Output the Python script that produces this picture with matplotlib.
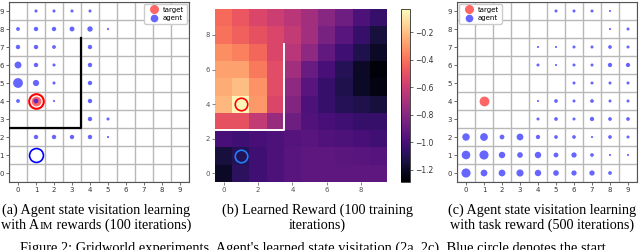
import numpy as np
import matplotlib
matplotlib.use('Agg')
import matplotlib.pyplot as plt
from matplotlib.lines import Line2D

# panel (a): agent visitation with AIM rewards
xs_a = [1, 2, 3, 4, 0, 1, 2, 3, 4, 5, 0, 1, 2, 4, 0, 1, 2, 4, 0, 1, 2, 4, 0, 1, 2, 4, 4, 5, 1, 2, 3, 4, 5]
ys_a = [9, 9, 9, 9, 8, 8, 8, 8, 8, 8, 7, 7, 7, 7, 6, 6, 6, 6, 5, 5, 5, 5, 4, 4, 4, 4, 3, 3, 2, 2, 2, 2, 2]
visits_a = [2, 2, 2, 2, 3, 4, 4, 5, 6, 1, 4, 4, 3, 4, 10, 4, 2, 4, 20, 8, 2, 4, 3, 5, 1, 4, 4, 2, 4, 4, 4, 4, 1]

# panel (c): agent visitation with task reward
xs_c = [5, 6, 7, 8,
        8, 9,
        4, 5, 6, 7, 8, 9,
        4, 5, 6, 7, 8, 9,
        6, 7, 8, 9,
        4, 5, 6, 7, 8, 9,
        4, 5, 6, 7, 8, 9,
        0, 1, 2, 3, 4, 5, 6, 7, 8, 9,
        0, 1, 2, 3, 4, 5, 6, 7, 8, 9,
        0, 1, 2, 3, 4, 5, 6, 7, 8]
ys_c = [9, 9, 9, 9,
        8, 8,
        7, 7, 7, 7, 7, 7,
        6, 6, 6, 6, 6, 6,
        5, 5, 5, 5,
        4, 4, 4, 4, 4, 4,
        3, 3, 3, 3, 3, 3,
        2, 2, 2, 2, 2, 2, 2, 2, 2, 2,
        1, 1, 1, 1, 1, 1, 1, 1, 1, 1,
        0, 0, 0, 0, 0, 0, 0, 0, 0]
visits_c = [2, 2, 2, 1,
            1, 2,
            1, 1, 2, 2, 3, 2,
            2, 1, 2, 2, 4, 4,
            2, 2, 2, 2,
            1, 3, 2, 3, 2, 2,
            2, 3, 2, 4, 3, 3,
            12, 13, 5, 10, 4, 3, 3, 1, 3, 2,
            16, 18, 9, 7, 9, 5, 6, 3, 1, 1,
            18, 10, 10, 11, 9, 7, 6, 6, 3]

# panel (b): learned reward, rows from y=0 (bottom) to y=9 (top)
reward = [
    [-1.20, -1.08, -1.02, -0.98, -0.95, -0.93, -0.93, -0.93, -0.93, -0.93],
    [-1.15, -1.10, -1.02, -0.98, -0.95, -0.93, -0.93, -0.94, -0.95, -0.96],
    [-1.00, -1.02, -1.00, -0.98, -0.96, -0.95, -0.97, -0.98, -1.00, -1.02],
    [-0.50, -0.50, -0.62, -0.75, -0.88, -0.97, -1.00, -1.02, -1.05, -1.05],
    [-0.22, -0.05, -0.30, -0.55, -0.82, -0.98, -1.05, -1.10, -1.12, -1.15],
    [-0.25, -0.20, -0.32, -0.52, -0.78, -0.95, -1.05, -1.12, -1.20, -1.25],
    [-0.28, -0.28, -0.38, -0.52, -0.72, -0.90, -1.00, -1.10, -1.20, -1.27],
    [-0.33, -0.36, -0.43, -0.55, -0.65, -0.78, -0.92, -1.02, -1.12, -1.20],
    [-0.40, -0.45, -0.50, -0.55, -0.62, -0.72, -0.85, -0.95, -1.05, -1.15],
    [-0.42, -0.48, -0.55, -0.60, -0.65, -0.72, -0.80, -0.88, -0.98, -1.05],
]
cbar_ticks = [-0.2, -0.4, -0.6, -0.8, -1.0, -1.2]

target = (1, 4)
start = (1, 1)
wall_x = [-0.5, 3.5, 3.5]
wall_y = [2.5, 2.5, 7.5]

# caption lines; the (a) second line is split so "IM" can be set in small caps
captions = [
    ("(a) Agent state visitation learning", ["with A", "IM", " rewards (100 iterations)"]),
    ("(b) Learned Reward (100 training", ["iterations)"]),
    ("(c) Agent state visitation learning", ["with task reward (500 iterations)"]),
]
fig_caption = "Figure 2: Gridworld experiments. Agent's learned state visitation (2a, 2c). Blue circle denotes the start"

agent_col = (0, 0, 1, 0.6)
target_col = (1, 0, 0, 0.6)
serif = 'Liberation Serif'
cap_fs = 10.2

fig = plt.figure(figsize=(6.4, 2.5), dpi=100)


def grid_axes(rect):
    ax = fig.add_axes(rect)
    ax.set_xlim(-0.5, 9.5)
    ax.set_ylim(-0.5, 9.5)
    ax.set_xticks(range(10))
    ax.set_yticks(range(10))
    ax.set_xticks(np.arange(-0.5, 10, 1), minor=True)
    ax.set_yticks(np.arange(-0.5, 10, 1), minor=True)
    ax.grid(which='minor', color='#b8b8b8', lw=1.0)
    ax.tick_params(which='minor', length=0)
    ax.tick_params(which='major', labelsize=5, length=2, width=0.5, pad=1.5, colors='#333333')
    for s in ax.spines.values():
        s.set_color('#555555')
        s.set_linewidth(0.8)
    ax.set_axisbelow(True)
    return ax


def legend_handles():
    return [Line2D([], [], ls='none', marker='o', ms=6.5, mfc=target_col, mec='none', label='target'),
            Line2D([], [], ls='none', marker='o', ms=5.5, mfc=agent_col, mec='none', label='agent')]


# (a)
ax_a = grid_axes([9 / 640, 68 / 250, 180 / 640, 180 / 250])
ax_a.scatter([target[0]], [target[1]], s=50, color=target_col, lw=0, zorder=3)
ax_a.plot([target[0]], [target[1]], 'o', ms=10.5, mfc='none', mec='red', mew=1.5, zorder=4)
ax_a.plot([start[0]], [start[1]], 'o', ms=10, mfc='none', mec='blue', mew=1.2, zorder=4)
ax_a.scatter(xs_a, ys_a, s=np.array(visits_a) * 2.5, color=agent_col, lw=0, zorder=5)
ax_a.plot(wall_x, wall_y, color='black', lw=1.6, zorder=6)
ax_a.legend(handles=legend_handles(), loc='upper right', fontsize=5, handletextpad=0.3,
            borderpad=0.4, labelspacing=0.3, framealpha=1, edgecolor='#cccccc', borderaxespad=0.3)

# (b)
ax_b = fig.add_axes([215 / 640, 68 / 250, 172 / 640, 173 / 250])
im = ax_b.imshow(np.array(reward), origin='lower', cmap='magma', vmin=-1.29, vmax=-0.03,
                 extent=(-0.5, 9.5, -0.5, 9.5), aspect='auto', interpolation='nearest')
ax_b.plot(wall_x, wall_y, color='white', lw=1.4)
ax_b.plot([target[0]], [target[1]], 'o', ms=9, mfc='none', mec='red', mew=1.2)
ax_b.plot([start[0]], [start[1]], 'o', ms=9, mfc='none', mec='#1f7fff', mew=1.2)
ax_b.set_xticks([0, 2, 4, 6, 8])
ax_b.set_yticks([0, 2, 4, 6, 8])
ax_b.tick_params(labelsize=5, length=2, width=0.5, pad=1.5, colors='#555555')
for s in ax_b.spines.values():
    s.set_visible(False)

cax = fig.add_axes([401 / 640, 68 / 250, 9 / 640, 173 / 250])
cb = fig.colorbar(im, cax=cax, ticks=cbar_ticks)
cb.ax.tick_params(labelsize=5.5, length=2, width=0.5, pad=2, colors='#333333')
cb.outline.set_linewidth(0.5)

# (c)
ax_c = grid_axes([457 / 640, 68 / 250, 180 / 640, 180 / 250])
ax_c.scatter([target[0]], [target[1]], s=50, color=target_col, lw=0, zorder=3)
ax_c.scatter(xs_c, ys_c, s=np.array(visits_c) * 2.4, color=agent_col, lw=0, zorder=5)
ax_c.legend(handles=legend_handles(), loc='upper left', fontsize=5, handletextpad=0.3,
            borderpad=0.4, labelspacing=0.3, framealpha=1, edgecolor='#cccccc', borderaxespad=0.3)

# captions
renderer = fig.canvas.get_renderer()
centers = [96, 317, 542]
for (l1, parts), cx in zip(captions, centers):
    fig.text(cx / 640, 1 - 214 / 250, l1, ha='center', va='baseline', family=serif, fontsize=cap_fs)
    # second line: pieces laid out left to right, then centred as a whole
    pieces = []
    for p in parts:
        fs = cap_fs * 0.78 if p == "IM" else cap_fs
        pieces.append(fig.text(0, 1 - 229 / 250, p, ha='left', va='baseline', family=serif, fontsize=fs))
    widths = [t.get_window_extent(renderer).width for t in pieces]
    x = cx - sum(widths) / 2
    for t, w in zip(pieces, widths):
        t.set_x(x / 640)
        x += w

fig.text(20 / 640, 1 - 252 / 250, fig_caption, ha='left', va='baseline', family=serif, fontsize=10.4)

fig.savefig('out.png', dpi=100)
